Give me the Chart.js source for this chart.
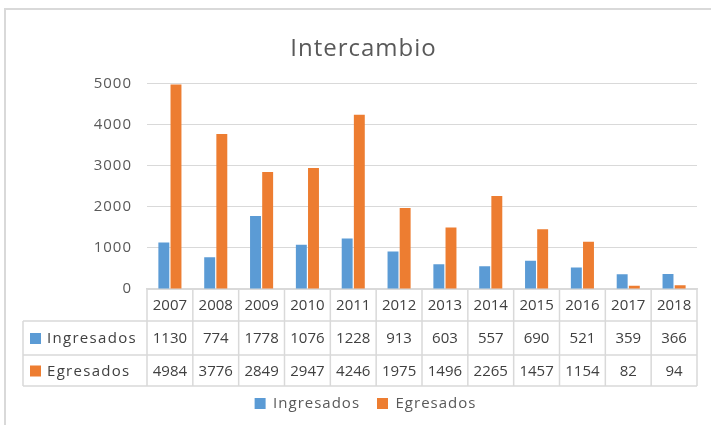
<!DOCTYPE html>
<html>
<head>
<meta charset="utf-8">
<script src="https://cdn.jsdelivr.net/npm/chart.js@4"></script>
<style>
body { margin: 0; background: #fff; }
#wrap { width: 711px; height: 425px; }
</style>
</head>
<body>
<div id="wrap"><canvas id="chart"></canvas></div>
<script>
const years = ['2007', '2008', '2009', '2010', '2011', '2012', '2013', '2014', '2015', '2016', '2017', '2018'];
const ingresados = [1130, 774, 1778, 1076, 1228, 913, 603, 557, 690, 521, 359, 366];
const egresados = [4984, 3776, 2849, 2947, 4246, 1975, 1496, 2265, 1457, 1154, 82, 94];
const yTicks = [0, 1000, 2000, 3000, 4000, 5000];

const BLUE = '#5b9bd5';
const ORANGE = '#ed7d31';
const LINE = '#d9d9d9';
const FONT = "'Open Sans', sans-serif";

// letter spacing + outer frame
const framePlugin = {
    id: 'frame',
    beforeUpdate(chart) {
        chart.ctx.letterSpacing = '1px';
    },
    beforeDraw(chart) {
        const ctx = chart.ctx;
        ctx.letterSpacing = '1px';
        ctx.save();
        ctx.strokeStyle = LINE;
        ctx.lineWidth = 2;
        ctx.beginPath();
        ctx.moveTo(5, 425);
        ctx.lineTo(5, 9);
        ctx.lineTo(711, 9);
        ctx.stroke();
        ctx.restore();
    },
    afterLayout(chart) {
        // legend sits a little right of the title in the original
        chart.legend.left += 2;
        chart.legend.right += 2;
    }
};

// data table under the x axis
const tablePlugin = {
    id: 'table',
    afterDraw(chart) {
        const ctx = chart.ctx;
        const x = chart.scales.x;
        const top = chart.chartArea.bottom;
        const rows = [top, top + 32, top + 66, top + 97];
        const left = 23;
        const colW = (x.right - x.left) / years.length;

        ctx.save();
        ctx.strokeStyle = LINE;
        ctx.lineWidth = 1.5;
        ctx.beginPath();
        for (let r = 1; r < rows.length; r++) {
            ctx.moveTo(left, rows[r]);
            ctx.lineTo(x.right, rows[r]);
        }
        for (let k = 0; k <= years.length; k++) {
            ctx.moveTo(x.left + k * colW, rows[0]);
            ctx.lineTo(x.left + k * colW, rows[3]);
        }
        ctx.moveTo(left, rows[1]);
        ctx.lineTo(left, rows[3]);
        ctx.stroke();

        ctx.letterSpacing = '0px';
        ctx.font = '15px ' + FONT;
        ctx.fillStyle = '#404040';
        ctx.textAlign = 'center';
        ctx.textBaseline = 'middle';
        const series = [years, ingresados, egresados];
        series.forEach((vals, r) => {
            const cy = (rows[r] + rows[r + 1]) / 2 + 1;
            vals.forEach((v, i) => {
                ctx.fillText(String(v), x.getPixelForValue(i), cy);
            });
        });

        // row headers
        ctx.letterSpacing = '1.3px';
        ctx.textAlign = 'left';
        chart.data.datasets.forEach((ds, d) => {
            const cy = (rows[d + 1] + rows[d + 2]) / 2 + 1;
            ctx.fillStyle = ds.backgroundColor;
            ctx.fillRect(30, cy - 6, 11, 11);
            ctx.fillStyle = '#404040';
            ctx.fillText(ds.label, 47, cy);
        });
        ctx.restore();
    }
};

new Chart(document.getElementById('chart'), {
    type: 'bar',
    data: {
        labels: years,
        datasets: [
            { label: 'Ingresados', data: ingresados, backgroundColor: BLUE },
            { label: 'Egresados', data: egresados, backgroundColor: ORANGE }
        ]
    },
    options: {
        responsive: true,
        maintainAspectRatio: false,
        animation: false,
        layout: { padding: { left: 30, right: 14, top: 0, bottom: 4 } },
        datasets: {
            bar: { categoryPercentage: 0.53, barPercentage: 0.9 }
        },
        scales: {
            x: {
                grid: { display: false },
                border: { color: LINE, width: 1.5 },
                ticks: { display: false },
                afterFit(scale) { scale.height = 90; }
            },
            y: {
                min: 0,
                max: 5000,
                afterBuildTicks(scale) { scale.ticks = yTicks.map(v => ({ value: v })); },
                grid: { color: LINE, drawTicks: false },
                border: { display: false },
                ticks: {
                    color: '#595959',
                    font: { size: 15, family: FONT },
                    padding: 15,
                    callback: v => String(v)
                },
                afterFit(scale) { scale.width = 117; }
            }
        },
        plugins: {
            title: {
                display: true,
                text: 'Intercambio',
                color: '#595959',
                font: { size: 24, weight: 'normal', family: FONT },
                padding: { top: 35, bottom: 20 }
            },
            legend: {
                position: 'bottom',
                labels: {
                    boxWidth: 11,
                    boxHeight: 11,
                    padding: 17,
                    color: '#595959',
                    font: { size: 15, family: FONT }
                }
            },
            tooltip: { enabled: false }
        }
    },
    plugins: [framePlugin, tablePlugin]
});
</script>
</body>
</html>
